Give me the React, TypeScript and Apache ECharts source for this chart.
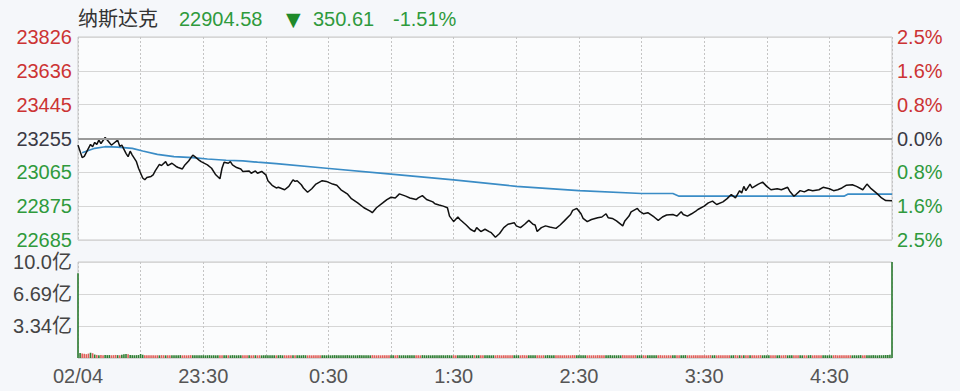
import React, { useEffect, useRef } from "react";
import * as echarts from "echarts";

const INDEX_NAME = "纳斯达克";
const LAST_PRICE = "22904.58";
const CHANGE = "350.61";
const CHANGE_PCT = "-1.51%";
const PREV_CLOSE = 23255.19;
const STEP = 190.2; // price distance between horizontal grid lines

const MINUTES = [
  0, 2, 3, 5, 6, 7, 8, 9, 10, 11, 13, 15, 16, 17, 19, 20, 21, 23, 24, 25, 26, 28, 29, 31, 32, 33, 35, 36, 37, 39,
  40, 42, 43, 45, 47, 48, 50, 51, 53, 55, 56, 58, 59, 62, 64, 66, 68, 69, 70, 72, 73, 74, 76, 78, 79, 82, 83, 85, 86, 88,
  90, 91, 93, 95, 96, 99, 101, 103, 104, 105, 107, 108, 110, 112, 114, 117, 119, 122, 124, 126, 129, 131, 134, 137, 140, 141, 143, 146, 148, 150,
  152, 154, 157, 159, 162, 163, 165, 167, 170, 171, 173, 175, 177, 178, 180, 182, 183, 186, 188, 190, 191, 193, 195, 197, 198, 200, 202, 204, 206, 209,
  210, 212, 214, 216, 218, 219, 220, 222, 224, 226, 229, 231, 233, 236, 237, 239, 241, 242, 244, 246, 249, 251, 253, 254, 256, 258, 261, 262, 264, 265,
  268, 269, 271, 273, 276, 278, 280, 282, 285, 287, 289, 290, 292, 294, 296, 297, 300, 302, 304, 306, 309, 311, 313, 315, 317, 318, 319, 320, 322, 323,
  325, 326, 328, 330, 332, 335, 337, 340, 341, 343, 344, 346, 348, 350, 352, 355, 357, 360, 362, 364, 366, 368, 371, 373, 376, 378, 380, 383, 385, 387,
  390,
];
const PRICES = [
  23218, 23148, 23155, 23200, 23222, 23209, 23233, 23222, 23246, 23227, 23261, 23233, 23218, 23227, 23246, 23211, 23218, 23172, 23153, 23184, 23162, 23125, 23088, 23033, 23023, 23036, 23042, 23051, 23073, 23110,
  23103, 23125, 23103, 23116, 23098, 23092, 23084, 23103, 23129, 23162, 23153, 23134, 23125, 23107, 23088, 23051, 23029, 23088, 23122, 23116, 23125, 23107, 23092, 23084, 23070, 23073, 23060, 23073, 23060, 23070,
  23051, 23018, 22992, 22977, 22981, 22967, 22986, 23023, 23014, 23018, 22995, 22977, 22953, 22973, 22999, 23018, 23014, 22999, 22992, 22967, 22944, 22917, 22893, 22866, 22847, 22838, 22866, 22893, 22912, 22925,
  22921, 22944, 22931, 22921, 22912, 22921, 22934, 22912, 22899, 22888, 22881, 22875, 22866, 22819, 22788, 22814, 22800, 22769, 22745, 22732, 22754, 22732, 22745, 22732, 22726, 22700, 22721, 22754, 22773, 22782,
  22764, 22754, 22773, 22795, 22773, 22769, 22732, 22754, 22764, 22758, 22750, 22769, 22792, 22828, 22851, 22862, 22832, 22806, 22788, 22800, 22810, 22814, 22832, 22810, 22806, 22792, 22764, 22792, 22819, 22843,
  22862, 22847, 22832, 22838, 22814, 22795, 22814, 22825, 22828, 22819, 22843, 22828, 22819, 22832, 22847, 22856, 22875, 22893, 22903, 22884, 22899, 22917, 22940, 22921, 22962, 22949, 22986, 22962, 22999, 22977,
  22992, 22999, 23010, 22986, 22967, 22973, 22967, 22981, 22959, 22931, 22940, 22962, 22955, 22967, 22962, 22967, 22981, 22973, 22962, 22967, 22977, 22992, 22995, 22986, 22967, 22999, 22973, 22944, 22921, 22906,
  22904.58,
];

const AVG_MINUTES = [2, 8, 13, 19, 26, 31, 38, 46, 55, 62, 71, 79, 86, 95, 119, 150, 180, 210, 240, 270, 285, 288, 367, 369, 390];
const AVG_PRICES = [23175, 23200, 23209, 23207, 23200, 23185, 23166, 23153, 23148, 23140, 23133, 23129, 23122, 23114, 23088, 23055, 23023, 22986, 22962, 22946, 22946, 22931, 22931, 22943, 22943];

// volume per minute, in 亿
const VOLUMES = [
  8.85, 0.52, 0.48, 0.44, 0.4, 0.46, 0.55, 0.5, 0.36, 0.32, 0.3, 0.31, 0.29, 0.32, 0.3, 0.31, 0.29, 0.3, 0.32, 0.3, 0.29, 0.34, 0.38, 0.43, 0.4, 0.32, 0.3, 0.29, 0.3, 0.31,
  0.42, 0.34, 0.29, 0.28, 0.29, 0.28, 0.3, 0.28, 0.29, 0.28, 0.3, 0.29, 0.28, 0.29, 0.3, 0.28, 0.29, 0.28, 0.29, 0.3, 0.28, 0.29, 0.28, 0.29, 0.3, 0.29, 0.28, 0.29, 0.28, 0.29,
  0.29, 0.28, 0.29, 0.3, 0.28, 0.29, 0.28, 0.29, 0.3, 0.28, 0.29, 0.28, 0.29, 0.28, 0.3, 0.29, 0.28, 0.29, 0.28, 0.29, 0.3, 0.28, 0.29, 0.28, 0.29, 0.3, 0.28, 0.29, 0.28, 0.29,
  0.28, 0.29, 0.3, 0.28, 0.29, 0.28, 0.29, 0.3, 0.28, 0.29, 0.28, 0.29, 0.3, 0.28, 0.29, 0.28, 0.29, 0.28, 0.3, 0.29, 0.28, 0.29, 0.28, 0.29, 0.3, 0.28, 0.29, 0.28, 0.29, 0.28,
  0.29, 0.28, 0.29, 0.3, 0.28, 0.29, 0.28, 0.29, 0.28, 0.3, 0.29, 0.28, 0.29, 0.28, 0.29, 0.3, 0.28, 0.29, 0.28, 0.29, 0.28, 0.3, 0.29, 0.28, 0.29, 0.28, 0.29, 0.3, 0.28, 0.29,
  0.28, 0.29, 0.28, 0.3, 0.29, 0.28, 0.29, 0.28, 0.29, 0.3, 0.28, 0.29, 0.28, 0.29, 0.28, 0.3, 0.29, 0.28, 0.29, 0.28, 0.29, 0.3, 0.28, 0.29, 0.28, 0.29, 0.28, 0.3, 0.29, 0.28,
  0.29, 0.28, 0.29, 0.3, 0.28, 0.29, 0.28, 0.29, 0.28, 0.3, 0.29, 0.28, 0.29, 0.28, 0.29, 0.3, 0.28, 0.29, 0.28, 0.29, 0.28, 0.3, 0.29, 0.28, 0.29, 0.28, 0.29, 0.3, 0.28, 0.29,
  0.28, 0.29, 0.28, 0.3, 0.29, 0.28, 0.29, 0.28, 0.29, 0.3, 0.28, 0.29, 0.28, 0.29, 0.28, 0.3, 0.29, 0.28, 0.29, 0.28, 0.29, 0.3, 0.28, 0.29, 0.28, 0.29, 0.28, 0.3, 0.29, 0.28,
  0.29, 0.28, 0.29, 0.3, 0.28, 0.29, 0.28, 0.29, 0.28, 0.3, 0.29, 0.28, 0.29, 0.28, 0.29, 0.3, 0.28, 0.29, 0.28, 0.29, 0.28, 0.3, 0.29, 0.28, 0.29, 0.28, 0.29, 0.3, 0.28, 0.29,
  0.28, 0.29, 0.28, 0.3, 0.29, 0.28, 0.29, 0.28, 0.29, 0.3, 0.28, 0.29, 0.28, 0.29, 0.28, 0.3, 0.29, 0.28, 0.29, 0.28, 0.29, 0.3, 0.28, 0.29, 0.28, 0.29, 0.28, 0.3, 0.29, 0.28,
  0.29, 0.28, 0.29, 0.3, 0.28, 0.29, 0.28, 0.29, 0.28, 0.3, 0.29, 0.28, 0.29, 0.28, 0.29, 0.3, 0.28, 0.29, 0.28, 0.29, 0.28, 0.3, 0.29, 0.28, 0.29, 0.28, 0.29, 0.3, 0.28, 0.29,
  0.28, 0.29, 0.28, 0.3, 0.29, 0.28, 0.29, 0.28, 0.29, 0.3, 0.28, 0.29, 0.28, 0.29, 0.28, 0.3, 0.29, 0.28, 0.29, 0.28, 0.29, 0.3, 0.28, 0.29, 0.28, 0.29, 0.28, 0.3, 0.29, 0.28,
  0.29, 0.28, 0.29, 0.3, 0.28, 0.29, 0.28, 0.29, 0.28, 0.3, 0.29, 0.28, 0.29, 0.28, 0.29, 0.3, 0.28, 0.29, 0.28, 0.29, 0.28, 0.3, 0.29, 0.28, 0.3, 0.29, 0.3, 0.31, 0.32, 0.33,
  10.03,
];
const VOL_MAX = 10.03;

const TIME_LABELS: Record<number, string> = {
  0: "02/04",
  60: "23:30",
  120: "0:30",
  180: "1:30",
  240: "2:30",
  300: "3:30",
  360: "4:30",
};

const RED = "#cc3333";
const GREEN = "#2f9a3c";
const FONT = '"Liberation Sans", Arial, "Noto Sans CJK SC", sans-serif';

function volColor(m: number): string {
  let i = 0;
  while (i < MINUTES.length - 2 && MINUTES[i + 1] <= m) i++;
  return PRICES[i + 1] > PRICES[i] ? "#e0605a" : "#2e7d32";
}

export default function App() {
  const ref = useRef<HTMLDivElement>(null);
  useEffect(() => {
    document.body.style.margin = "0";
    if (!ref.current) return;
    const chart = echarts.init(ref.current, undefined, { renderer: "svg" });
    const toUnit = (p: number) => (p - PREV_CLOSE) / STEP;
    const priceData = MINUTES.map((m, i) => [m, toUnit(PRICES[i])]);
    const avgData = AVG_MINUTES.map((m, i) => [m, toUnit(AVG_PRICES[i])]);
    const volData = VOLUMES.map((v, m) => [m, v]);
    const volColors = VOLUMES.map((_, m) => volColor(m));

    const labelColor = (v: any) => {
      const n = Number(v);
      return n > 0.001 ? RED : n < -0.001 ? GREEN : "#3a3a44";
    };
    const xSplit = { show: true, lineStyle: { color: "#c4c4c4", type: [2, 2] as any, width: 1 } };

    chart.setOption({
      animation: false,
      backgroundColor: "#f5f7fa",
      graphic: [
        { type: "text", x: 78, y: 19, style: { text: INDEX_NAME, fill: "#333", fontSize: 20, fontFamily: FONT, verticalAlign: "middle" } },
        { type: "text", x: 179, y: 19, style: { text: LAST_PRICE, fill: GREEN, fontSize: 20, fontFamily: FONT, verticalAlign: "middle" } },
        { type: "text", x: 286, y: 19, style: { text: "▼", fill: "#1f8a2a", fontSize: 19, fontFamily: '"DejaVu Sans", sans-serif', verticalAlign: "middle" } },
        { type: "text", x: 313, y: 19, style: { text: CHANGE, fill: GREEN, fontSize: 20, fontFamily: FONT, verticalAlign: "middle" } },
        { type: "text", x: 393, y: 19, style: { text: CHANGE_PCT, fill: GREEN, fontSize: 20, fontFamily: FONT, verticalAlign: "middle" } },
      ],
      grid: [
        { left: 78, top: 37, width: 814, height: 203, show: true, borderColor: "#c8c8c8", borderWidth: 1, backgroundColor: "#fbfcfd" },
        { left: 78, top: 262, width: 814, height: 96, show: true, borderColor: "#c8c8c8", borderWidth: 1, backgroundColor: "#fbfcfd" },
      ],
      xAxis: [
        {
          type: "value", gridIndex: 0, min: 0, max: 390, interval: 30,
          axisLine: { show: false }, axisTick: { show: false }, axisLabel: { show: false }, splitLine: xSplit,
        },
        {
          type: "value", gridIndex: 1, min: 0, max: 390, interval: 30,
          axisLine: { show: false }, axisTick: { show: false }, splitLine: xSplit,
          axisLabel: {
            show: true, showMinLabel: true, showMaxLabel: false, margin: 8,
            color: "#555", fontSize: 20, fontFamily: FONT,
            formatter: (v: number) => TIME_LABELS[Math.round(v)] ?? "",
          },
        },
      ],
      yAxis: [
        {
          type: "value", gridIndex: 0, min: -3, max: 3, interval: 1, position: "left",
          axisLine: { show: false }, axisTick: { show: false },
          splitLine: { show: true, lineStyle: { color: "#d6d6d6", width: 1 } },
          axisLabel: {
            margin: 6, fontSize: 20, fontFamily: FONT, color: labelColor,
            formatter: (v: number) => String(Math.round(PREV_CLOSE + v * STEP)),
          },
        },
        {
          type: "value", gridIndex: 0, min: -3, max: 3, interval: 1, position: "right",
          axisLine: { show: false }, axisTick: { show: false }, splitLine: { show: false },
          axisLabel: {
            margin: 5, fontSize: 20, fontFamily: FONT, color: labelColor,
            formatter: (v: number) => Math.abs((v * STEP) / PREV_CLOSE * 100).toFixed(1) + "%",
          },
        },
        {
          type: "value", gridIndex: 1, min: 0, max: VOL_MAX, interval: VOL_MAX / 3,
          axisLine: { show: false }, axisTick: { show: false },
          splitLine: { show: true, lineStyle: { color: "#d6d6d6", width: 1 } },
          axisLabel: {
            margin: 6, fontSize: 20, fontFamily: FONT, color: "#444",
            formatter: (v: number) => (v < 0.01 ? "" : v >= 9.995 ? v.toFixed(1) + "亿" : v.toFixed(2) + "亿"),
          },
        },
      ],
      series: [
        {
          type: "line", xAxisIndex: 0, yAxisIndex: 0, data: avgData, showSymbol: false,
          lineStyle: { color: "#3a8cc6", width: 1.7 }, silent: true, z: 3,
        },
        {
          type: "line", xAxisIndex: 0, yAxisIndex: 0, data: priceData, showSymbol: false,
          lineStyle: { color: "#111", width: 1.5 }, silent: true, z: 4,
          markLine: {
            silent: true, symbol: "none", label: { show: false },
            lineStyle: { color: "#9a9a9a", width: 2, type: "solid" },
            data: [{ yAxis: 0 }],
          },
        },
        {
          type: "bar", xAxisIndex: 1, yAxisIndex: 2, data: volData, barWidth: 1.6, silent: true,
          itemStyle: { color: (p: any) => volColors[p.dataIndex] },
        },
      ],
    });
    return () => chart.dispose();
  }, []);
  return <div ref={ref} style={{ width: 960, height: 391 }} />;
}
